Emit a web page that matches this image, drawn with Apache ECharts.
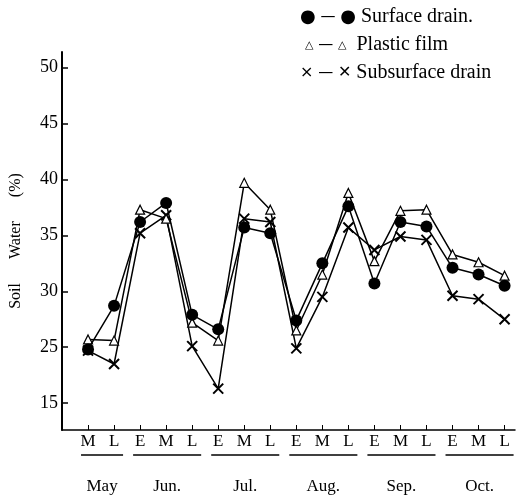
<!DOCTYPE html>
<html>
<head>
<meta charset="utf-8">
<script src="https://cdn.jsdelivr.net/npm/echarts@6/dist/echarts.min.js"></script>
<style>
  html, body { margin: 0; padding: 0; background: #fff; }
  #chart { width: 517px; height: 496px; }
</style>
</head>
<body>
<div id="chart"></div>
<script>
// stages within each month (early / middle / late)
var stages = ['M','L','E','M','L','E','M','L','E','M','L','E','M','L','E','M','L'];
var months = ['May','Jun.','Jul.','Aug.','Sep.','Oct.'];
var monthFirst = [0, 2, 5, 8, 11, 14];
var monthLast = [1, 4, 7, 10, 13, 16];

// soil water (%), axis units (bottom tick is drawn as 15, axis is broken)
var surface = [24.8, 28.7, 36.2, 37.9, 27.9, 26.6, 35.7, 35.2, 27.4, 32.5, 37.6, 30.7, 36.2, 35.8, 32.1, 31.5, 30.5];
var plastic = [25.7, 25.6, 37.3, 36.5, 27.2, 25.6, 39.7, 37.3, 26.5, 31.5, 38.8, 32.7, 37.2, 37.3, 33.3, 32.6, 31.4];
var subsurface = [24.7, 23.5, 35.2, 36.8, 25.1, 21.3, 36.5, 36.2, 24.9, 29.5, 35.7, 33.7, 34.9, 34.6, 29.6, 29.3, 27.5];

var yTicks = [20, 25, 30, 35, 40, 45, 50];
var yTickLabels = ['15', '25', '30', '35', '40', '45', '50'];

var serif = '"Liberation Serif", "DejaVu Serif", serif';
var idx = stages.map(function (s, i) { return i; });

function pairs(arr) {
    return arr.map(function (v, i) { return [i, v]; });
}

var crossPath = 'path://M0,0L10,10M10,0L0,10';

var chart = echarts.init(document.getElementById('chart'));
var option = {
    animation: false,
    backgroundColor: '#fff',
    grid: { left: 62, right: 2, top: 52, bottom: 66, outerBoundsMode: 'none', containLabel: false },
    legend: {
        orient: 'vertical',
        left: 290,
        top: 2,
        itemGap: 8,
        icon: 'none',
        itemWidth: 0,
        itemHeight: 10,
        selectedMode: false,
        textStyle: {
            fontFamily: serif,
            fontSize: 20,
            color: '#000',
            rich: {
                c: { fontFamily: '"DejaVu Sans"', fontSize: 18, color: '#000' },
                t: { fontFamily: '"DejaVu Sans"', fontSize: 11, color: '#000' },
                x: { fontFamily: '"DejaVu Sans"', fontSize: 16, color: '#000' },
                l: { fontFamily: '"DejaVu Sans"', fontSize: 15, color: '#000' },
                n: { fontFamily: serif, fontSize: 20, color: '#000', height: 28 }
            }
        },
        formatter: function (name) {
            if (name === 'Surface drain.') return '{c|●}{l| — }{c|●} {n|' + name + '}';
            if (name === 'Plastic film') return ' {t|△}{l| — }{t|△}  {n|' + name + '}';
            return '{x|×}{l| — }{x|✕} {n|' + name + '}';
        },
        data: ['Surface drain.', 'Plastic film', 'Subsurface drain']
    },
    xAxis: {
        type: 'value',
        min: -1,
        max: 16.4,
        splitLine: { show: false },
        axisLine: { onZero: false, lineStyle: { color: '#000', width: 1.5 } },
        axisTick: {
            inside: true,
            length: 5,
            customValues: idx,
            lineStyle: { color: '#000', width: 1 }
        },
        axisLabel: {
            customValues: idx,
            margin: 3,
            color: '#000',
            fontFamily: serif,
            fontSize: 17,
            formatter: function (v) { return stages[Math.round(v)] || ''; }
        }
    },
    yAxis: {
        type: 'value',
        min: 17.6,
        max: 51.4,
        name: 'Soil      Water      (%)',
        nameLocation: 'middle',
        nameGap: 38,
        nameTextStyle: { fontFamily: serif, fontSize: 16, color: '#000' },
        splitLine: { show: false },
        axisLine: { show: true, onZero: false, lineStyle: { color: '#000', width: 2 } },
        axisTick: {
            show: true,
            inside: true,
            length: 6,
            customValues: yTicks,
            lineStyle: { color: '#000', width: 1.5 }
        },
        axisLabel: {
            customValues: yTicks,
            margin: 4,
            color: '#000',
            fontFamily: serif,
            fontSize: 18,
            formatter: function (v) { return yTickLabels[yTicks.indexOf(v)]; }
        }
    },
    series: [
        {
            name: 'Surface drain.',
            type: 'line',
            data: pairs(surface),
            symbol: 'circle',
            symbolSize: 12,
            itemStyle: { color: '#000' },
            lineStyle: { color: '#000', width: 1.5 },
            z: 4
        },
        {
            name: 'Plastic film',
            type: 'line',
            data: pairs(plastic),
            symbol: 'triangle',
            symbolSize: 9,
            itemStyle: { color: '#fff', borderColor: '#000', borderWidth: 1.2 },
            lineStyle: { color: '#000', width: 1.5 },
            z: 3
        },
        {
            name: 'Subsurface drain',
            type: 'line',
            data: pairs(subsurface),
            symbol: crossPath,
            symbolSize: 10,
            itemStyle: { color: '#000', borderColor: '#000', borderWidth: 2 },
            lineStyle: { color: '#000', width: 1.5 },
            z: 2
        }
    ]
};
chart.setOption(option);

// month underlines and names below the stage labels
var extra = [];
var lineY = 455;
for (var m = 0; m < months.length; m++) {
    var x0 = chart.convertToPixel({ xAxisIndex: 0 }, monthFirst[m]) - 7;
    var x1 = chart.convertToPixel({ xAxisIndex: 0 }, monthLast[m]) + 9;
    extra.push({
        type: 'line',
        shape: { x1: x0, y1: lineY, x2: x1, y2: lineY },
        style: { stroke: '#000', lineWidth: 1.5 }
    });
    extra.push({
        type: 'text',
        x: (x0 + x1) / 2,
        y: 487,
        style: {
            text: months[m],
            fill: '#000',
            font: '17px ' + serif,
            align: 'center',
            verticalAlign: 'middle'
        }
    });
}
chart.setOption({ graphic: extra });
</script>
</body>
</html>
